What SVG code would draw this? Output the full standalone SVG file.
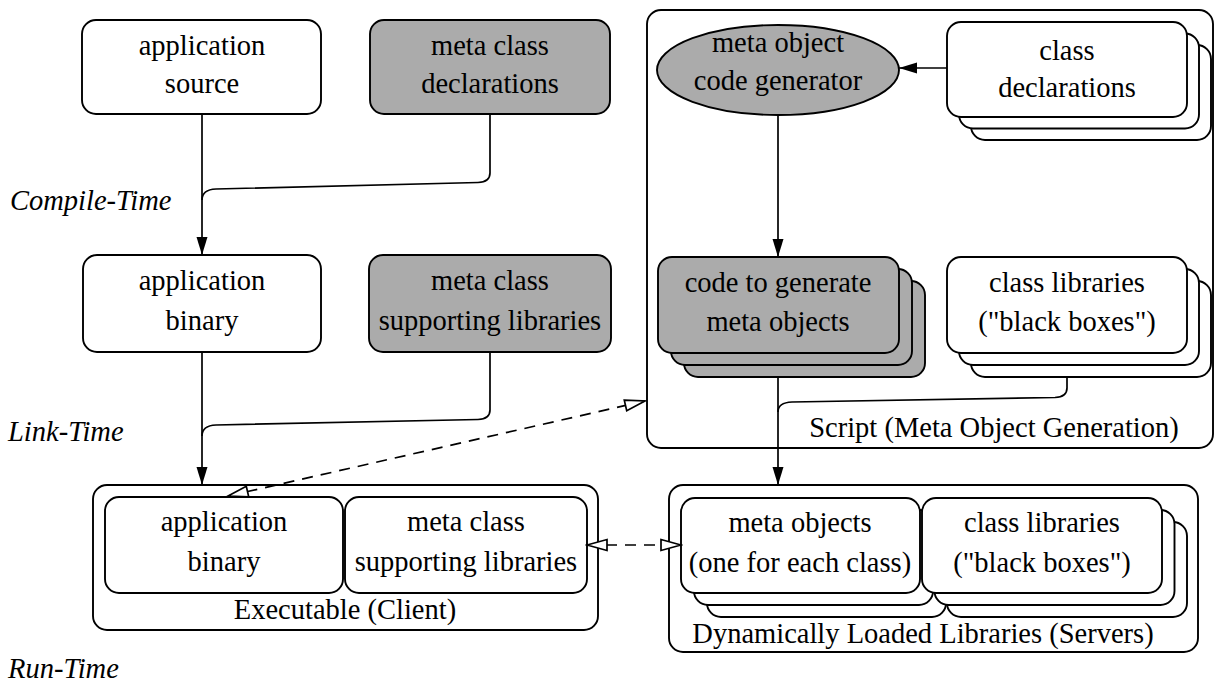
<svg xmlns="http://www.w3.org/2000/svg" width="1216" height="682" viewBox="0 0 1216 682">
<style>
.b{fill:#fff;stroke:#000;stroke-width:1.9}
.g{fill:#ababab;stroke:#000;stroke-width:1.9}
.t{font-family:"Liberation Serif","Times New Roman",serif;font-size:28.5px;fill:#000;text-anchor:middle}
.lbl{font-family:"Liberation Serif","Times New Roman",serif;font-size:28.5px;font-style:italic;fill:#000}
.c{fill:none;stroke:#000;stroke-width:1.7}
.d{fill:none;stroke:#000;stroke-width:1.7;stroke-dasharray:11 8}
</style>
<defs>
<marker id="fa" markerWidth="18" markerHeight="12" refX="18" refY="6" orient="auto" markerUnits="userSpaceOnUse"><path d="M0,0.5 L18,6 L0,11.5 z" fill="#000"/></marker>
<marker id="oa" markerWidth="24" markerHeight="16" refX="22" refY="8" orient="auto-start-reverse" markerUnits="userSpaceOnUse"><path d="M2,2.5 L22,8 L2,13.5 z" fill="#fff" stroke="#000" stroke-width="1.7"/></marker>
</defs>

<g id="time-labels">
<text class="lbl" x="10" y="210">Compile-Time</text>
<text class="lbl" x="8" y="441">Link-Time</text>
<text class="lbl" x="8" y="678">Run-Time</text>
</g>

<g id="script-container">
<rect class="b" x="647" y="10" width="566" height="438" rx="14"/>
<text class="t" x="994" y="437">Script (Meta Object Generation)</text>
</g>

<g id="app-source">
<rect class="b" x="82" y="20" width="239" height="94" rx="14"/>
<text class="t" x="202" y="55">application</text>
<text class="t" x="202" y="93">source</text>
</g>

<g id="meta-class-declarations">
<rect class="g" x="370" y="20" width="240" height="94" rx="14"/>
<text class="t" x="490" y="55">meta class</text>
<text class="t" x="490" y="93">declarations</text>
</g>

<g id="app-binary">
<rect class="b" x="83" y="255" width="238" height="97" rx="14"/>
<text class="t" x="202" y="290">application</text>
<text class="t" x="202" y="330">binary</text>
</g>

<g id="meta-class-supporting-libraries">
<rect class="g" x="369" y="255" width="242" height="97" rx="14"/>
<text class="t" x="490" y="290">meta class</text>
<text class="t" x="490" y="330">supporting libraries</text>
</g>

<g id="meta-object-code-generator">
<ellipse class="g" cx="778" cy="70" rx="121" ry="45"/>
<text class="t" x="778" y="52">meta object</text>
<text class="t" x="778" y="90">code generator</text>
</g>

<g id="class-declarations">
<rect class="b" x="971" y="45" width="240" height="95" rx="14"/>
<rect class="b" x="959" y="33.5" width="240" height="95" rx="14"/>
<rect class="b" x="947" y="22" width="240" height="95" rx="14"/>
<text class="t" x="1067" y="60">class</text>
<text class="t" x="1067" y="97">declarations</text>
</g>

<g id="code-to-generate-meta-objects">
<rect class="g" x="684" y="281" width="241" height="96" rx="14"/>
<rect class="g" x="671" y="269" width="241" height="96" rx="14"/>
<rect class="g" x="658" y="257" width="241" height="96" rx="14"/>
<text class="t" x="778" y="292">code to generate</text>
<text class="t" x="778" y="331">meta objects</text>
</g>

<g id="class-libraries-script">
<rect class="b" x="971" y="281" width="240" height="96" rx="14"/>
<rect class="b" x="959" y="269" width="240" height="96" rx="14"/>
<rect class="b" x="947" y="257" width="240" height="96" rx="14"/>
<text class="t" x="1067" y="292">class libraries</text>
<text class="t" x="1067" y="331">("black boxes")</text>
</g>

<g id="executable-client">
<rect class="b" x="93" y="485" width="505" height="145" rx="14"/>
<rect class="b" x="105" y="497" width="238" height="96" rx="14"/>
<rect class="b" x="345" y="497" width="242" height="96" rx="14"/>
<text class="t" x="224" y="531">application</text>
<text class="t" x="224" y="571">binary</text>
<text class="t" x="466" y="531">meta class</text>
<text class="t" x="466" y="571">supporting libraries</text>
<text class="t" x="345" y="619">Executable (Client)</text>
</g>

<g id="dynamically-loaded-libraries">
<rect class="b" x="669" y="485" width="529" height="167" rx="14"/>
<rect class="b" x="707" y="522" width="239" height="95" rx="14"/>
<rect class="b" x="694" y="510" width="239" height="95" rx="14"/>
<rect class="b" x="681" y="498" width="239" height="95" rx="14"/>
<rect class="b" x="947" y="522" width="240" height="95" rx="14"/>
<rect class="b" x="934.5" y="510" width="240" height="95" rx="14"/>
<rect class="b" x="922" y="498" width="240" height="95" rx="14"/>
<text class="t" x="800" y="532">meta objects</text>
<text class="t" x="800" y="572">(one for each class)</text>
<text class="t" x="1042" y="532">class libraries</text>
<text class="t" x="1042" y="572">("black boxes")</text>
<text class="t" x="923" y="643">Dynamically Loaded Libraries (Servers)</text>
</g>

<g id="connectors">
<line class="c" x1="202" y1="114" x2="202" y2="255" marker-end="url(#fa)"/>
<path class="c" d="M490,114 L490,173 Q490,182 478,182.5 L216,189 Q202,189.5 202,200"/>
<line class="c" x1="202" y1="352" x2="202" y2="485" marker-end="url(#fa)"/>
<path class="c" d="M490,352 L490,410 Q490,419 478,419.5 L216,425 Q202,425.5 202,436"/>
<line class="c" x1="947" y1="68" x2="899" y2="68" marker-end="url(#fa)"/>
<line class="c" x1="778" y1="115" x2="778" y2="257" marker-end="url(#fa)"/>
<line class="c" x1="778" y1="377" x2="778" y2="485" marker-end="url(#fa)"/>
<path class="c" d="M1067,377 L1067,388 Q1067,397 1055,397.5 L792,402 Q778,402.5 778,412"/>
<path class="d" d="M228,496 L645,401" marker-start="url(#oa)" marker-end="url(#oa)"/>
<path class="d" d="M587,545 L681,545" marker-start="url(#oa)" marker-end="url(#oa)"/>
</g>
</svg>
